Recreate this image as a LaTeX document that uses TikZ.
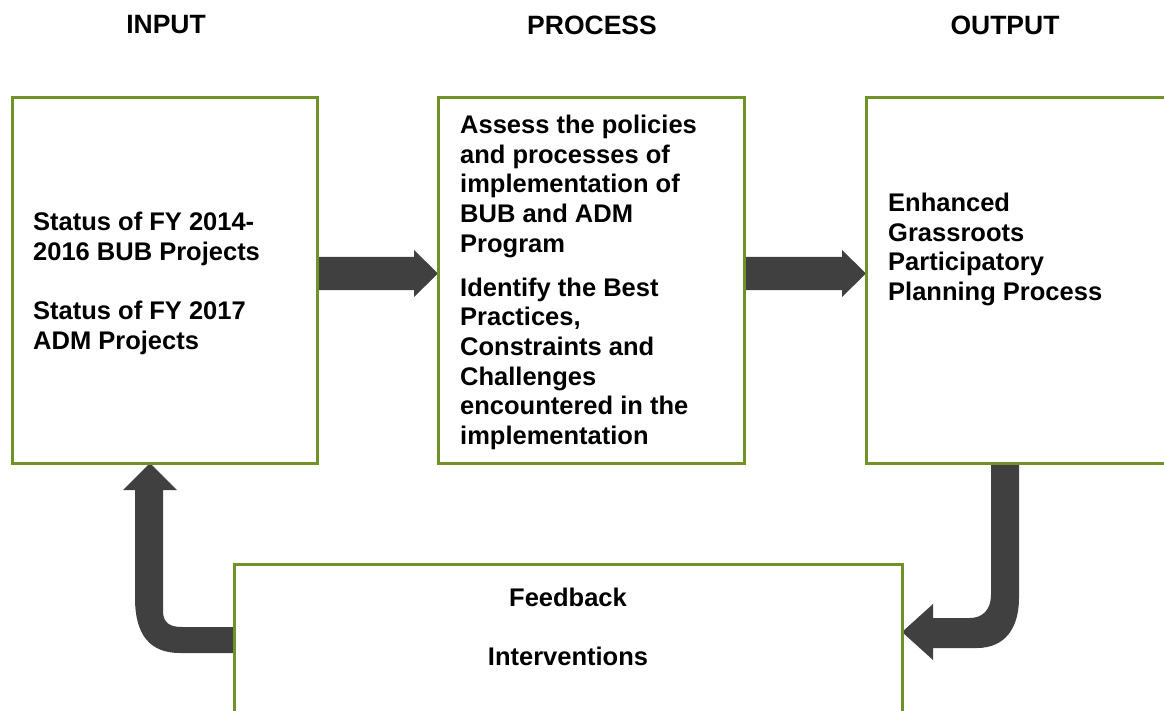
\documentclass[tikz,border=0pt]{standalone}
\usepackage{fontspec}
\setmainfont{Liberation Sans}
\usetikzlibrary{calc,backgrounds}
\definecolor{boxgreen}{RGB}{112,146,38}
\definecolor{arrgray}{RGB}{64,64,64}
\begin{document}
\begin{tikzpicture}[x=1pt,y=-1pt,
  box/.style={draw=boxgreen, line width=3pt, fill=white, rectangle, inner sep=0pt, outer sep=0pt, anchor=north west},
  txt/.style={font=\fontsize{25.5}{29.6}\selectfont\bfseries, align=left, inner sep=0pt, anchor=north west},
  head/.style={font=\fontsize{26.5}{30}\selectfont\bfseries, inner sep=0pt, anchor=north},
  arr/.style={fill=arrgray}]
\useasboundingbox (0,0) rectangle (1164,711);
\clip (0,0) rectangle (1164,711);
% boxes
\node[box, minimum width=305pt, minimum height=365pt] (in) at (12,98) {};
\node[box, minimum width=306pt, minimum height=365pt] (proc) at (438,98) {};
\node[box, minimum width=330pt, minimum height=365pt] (out) at (866,98) {};
\node[box, minimum width=668pt, minimum height=160pt] (fb) at (234,564) {};
% headers
\node[head] (hin) at (166,15.5) {INPUT};
\node[head] (hproc) at (592,15.5) {PROCESS};
\node[head] (hout) at (1005,15.5) {OUTPUT};
% texts
\node[txt] (tin) at (33,212) {Status of FY 2014-\\2016 BUB Projects\\[29.6pt]Status of FY 2017\\ADM Projects};
\node[txt] (tproc) at (460,115) {Assess the policies\\and processes of\\implementation of\\BUB and ADM\\Program\\[14.6pt]Identify the Best\\Practices,\\Constraints and\\Challenges\\encountered in the\\implementation};
\node[txt] (tout) at (888,193) {Enhanced\\Grassroots\\Participatory\\Planning Process};
\node[txt, anchor=north, align=center] (tfb) at (568,588) {Feedback\\[29pt]Interventions};
% arrows
\begin{scope}[on background layer]
\coordinate (a1) at ($(in.east)+(0,-7)$);
\coordinate (b1) at ($(proc.west)+(0,-7)$);
\fill[arr] ($(a1)+(0,-16.5)$) -- ($(b1)+(-24,-16.5)$) -- ($(b1)+(-24,-23.5)$) -- (b1) -- ($(b1)+(-24,23.5)$) -- ($(b1)+(-24,16.5)$) -- ($(a1)+(0,16.5)$) -- cycle;
\coordinate (a2) at ($(proc.east)+(0,-7)$);
\coordinate (b2) at ($(out.west)+(0,-7)$);
\fill[arr] ($(a2)+(0,-16.5)$) -- ($(b2)+(-24,-16.5)$) -- ($(b2)+(-24,-23.5)$) -- (b2) -- ($(b2)+(-24,23.5)$) -- ($(b2)+(-24,16.5)$) -- ($(a2)+(0,16.5)$) -- cycle;
% output -> feedback
\coordinate (c) at ($(out.south west)+(125,0)$);
\coordinate (t) at ($(fb.east)+(0,-12)$);
\fill[arr] (c) -- ($(c)+(0,132)$) .. controls ($(c)+(0,147)$) and ($(c)+(-9,155)$) .. ($(c)+(-21,155)$)
  -- ($(t)+(31,-14)$) -- ($(t)+(31,-28)$) -- (t) -- ($(t)+(31,28)$) -- ($(t)+(31,16)$)
  -- ($(c)+(-14,185)$) .. controls ($(c)+(14,185)$) and ($(c)+(28,165)$) .. ($(c)+(28,135)$)
  -- ($(c)+(28,0)$) -- cycle;
% feedback -> input
\coordinate (u) at ($(in.south west)+(138,0)$);
\coordinate (f) at ($(fb.west)+(0,-17)$);
\fill[arr] (f) -- ($(f)+(-52,0)$) .. controls ($(f)+(-64,0)$) and ($(u)+(13,160)$) .. ($(u)+(13,148)$)
  -- ($(u)+(13,27)$) -- ($(u)+(27,27)$) -- (u) -- ($(u)+(-27,27)$) -- ($(u)+(-15,27)$)
  -- ($(u)+(-15,135)$) .. controls ($(u)+(-15,172)$) and ($(f)+(-84,26)$) .. ($(f)+(-54,26)$)
  -- ($(f)+(0,26)$) -- cycle;
\end{scope}
\end{tikzpicture}
\end{document}
